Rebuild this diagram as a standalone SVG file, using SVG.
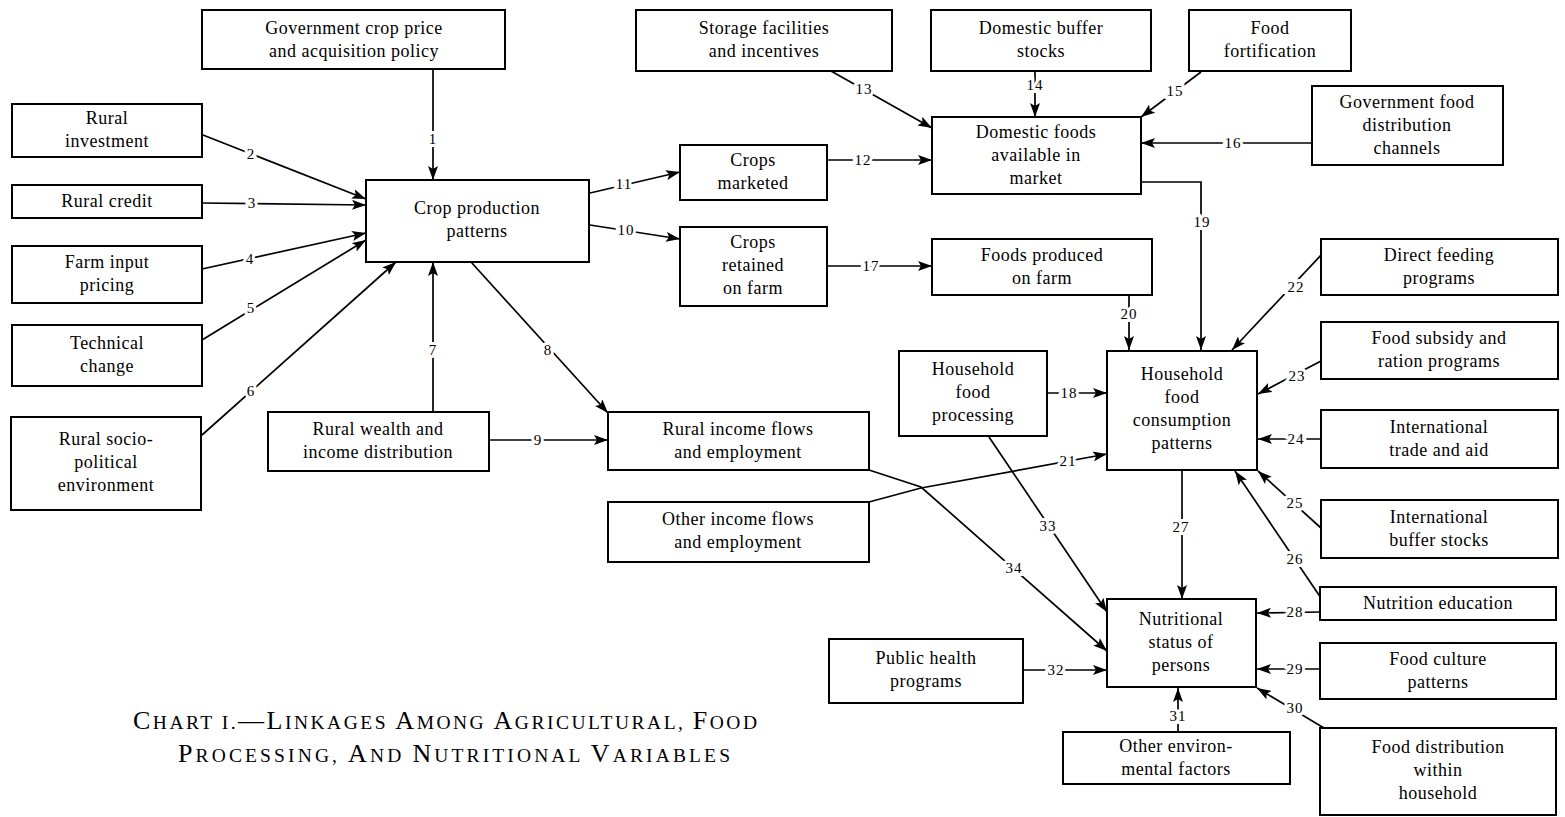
<svg xmlns="http://www.w3.org/2000/svg" width="1565" height="817" viewBox="0 0 1565 817">
<style>
.box{fill:#fff;stroke:#000;stroke-width:2}
.t{font-family:"Liberation Serif","DejaVu Serif",serif;font-size:18px;letter-spacing:0.5px;text-anchor:middle;fill:#000}
.c{fill:none;stroke:#000;stroke-width:1.7}
.l{font-family:"Liberation Serif","DejaVu Serif",serif;font-size:15px;text-anchor:middle;dominant-baseline:central;fill:#000;stroke:#fff;stroke-width:6px;paint-order:stroke;letter-spacing:1px}
.title{font-family:"Liberation Serif","DejaVu Serif",serif;font-size:19.5px;fill:#000}
.cap{font-size:26px}
</style>
<defs>
<marker id="ah" viewBox="0 0 14 10" markerWidth="14" markerHeight="10" refX="14" refY="5" orient="auto" markerUnits="userSpaceOnUse">
<path d="M0,0 L14,5 L0,10 L3,5 z" fill="#000"/>
</marker>
</defs>
<rect width="1565" height="817" fill="#fff"/>

<g id="connectors">
<path class="c" marker-end="url(#ah)" d="M433,70 L433,180"/>
<path class="c" marker-end="url(#ah)" d="M203,135 L366,199"/>
<path class="c" marker-end="url(#ah)" d="M202,203 L366,205"/>
<path class="c" marker-end="url(#ah)" d="M202,269 L366,233"/>
<path class="c" marker-end="url(#ah)" d="M202,340 L366,240"/>
<path class="c" marker-end="url(#ah)" d="M202,435 L396,262"/>
<path class="c" marker-end="url(#ah)" d="M433,412 L433,262"/>
<path class="c" marker-end="url(#ah)" d="M471,262 L608,413"/>
<path class="c" marker-end="url(#ah)" d="M489,440 L608,440"/>
<path class="c" marker-end="url(#ah)" d="M590,225 L680,239"/>
<path class="c" marker-end="url(#ah)" d="M590,193 L680,172"/>
<path class="c" marker-end="url(#ah)" d="M827,160 L932,160"/>
<path class="c" marker-end="url(#ah)" d="M831,71 L932,128"/>
<path class="c" marker-end="url(#ah)" d="M1035,71 L1035,117"/>
<path class="c" marker-end="url(#ah)" d="M1201,72 L1141,117"/>
<path class="c" marker-end="url(#ah)" d="M1312,143 L1141,143"/>
<path class="c" marker-end="url(#ah)" d="M827,266 L932,266"/>
<path class="c" marker-end="url(#ah)" d="M1047,393 L1107,393"/>
<path class="c" marker-end="url(#ah)" d="M1141,182 L1201,182 L1201,350"/>
<path class="c" marker-end="url(#ah)" d="M1129,295 L1129,350"/>
<path class="c" marker-end="url(#ah)" d="M869,502 L921,488 L1107,454"/>
<path class="c" marker-end="url(#ah)" d="M1323,253 L1232,350"/>
<path class="c" marker-end="url(#ah)" d="M1321,361 L1258,394"/>
<path class="c" marker-end="url(#ah)" d="M1321,439 L1258,439"/>
<path class="c" marker-end="url(#ah)" d="M1321,528 L1258,471"/>
<path class="c" marker-end="url(#ah)" d="M1321,598 L1235,471"/>
<path class="c" marker-end="url(#ah)" d="M1182,470 L1182,599"/>
<path class="c" marker-end="url(#ah)" d="M1320,612 L1257,613"/>
<path class="c" marker-end="url(#ah)" d="M1320,669 L1257,669"/>
<path class="c" marker-end="url(#ah)" d="M1324,728 L1257,688"/>
<path class="c" marker-end="url(#ah)" d="M1178,732 L1178,688"/>
<path class="c" marker-end="url(#ah)" d="M1023,670 L1107,670"/>
<path class="c" marker-end="url(#ah)" d="M989,437 L1107,612"/>
<path class="c" marker-end="url(#ah)" d="M869,470 L921,487 L1107,651"/>
<text class="l" x="433" y="139">1</text>
<text class="l" x="251" y="154">2</text>
<text class="l" x="252" y="203">3</text>
<text class="l" x="250" y="259">4</text>
<text class="l" x="251" y="308">5</text>
<text class="l" x="251" y="391">6</text>
<text class="l" x="433" y="350">7</text>
<text class="l" x="548" y="350">8</text>
<text class="l" x="538" y="440">9</text>
<text class="l" x="626" y="230">10</text>
<text class="l" x="624" y="184">11</text>
<text class="l" x="863" y="160">12</text>
<text class="l" x="864" y="89">13</text>
<text class="l" x="1035" y="85">14</text>
<text class="l" x="1175" y="91">15</text>
<text class="l" x="1233" y="143">16</text>
<text class="l" x="871" y="266">17</text>
<text class="l" x="1069" y="393">18</text>
<text class="l" x="1202" y="222">19</text>
<text class="l" x="1129" y="314">20</text>
<text class="l" x="1068" y="461">21</text>
<text class="l" x="1296" y="287">22</text>
<text class="l" x="1297" y="376">23</text>
<text class="l" x="1296" y="439">24</text>
<text class="l" x="1295" y="503">25</text>
<text class="l" x="1295" y="559">26</text>
<text class="l" x="1181" y="527">27</text>
<text class="l" x="1295" y="612">28</text>
<text class="l" x="1295" y="669">29</text>
<text class="l" x="1295" y="708">30</text>
<text class="l" x="1178" y="716">31</text>
<text class="l" x="1056" y="670">32</text>
<text class="l" x="1048" y="526">33</text>
<text class="l" x="1014" y="568">34</text>
</g>

<g id="gov"><rect class="box" x="202" y="10" width="303" height="59"/><text class="t" x="354" y="34">Government crop price</text><text class="t" x="354" y="57">and acquisition policy</text></g>
<g id="ruralInvestment"><rect class="box" x="12" y="104" width="190" height="53"/><text class="t" x="107" y="124">Rural</text><text class="t" x="107" y="147">investment</text></g>
<g id="ruralCredit"><rect class="box" x="12" y="185" width="190" height="33"/><text class="t" x="107" y="207">Rural credit</text></g>
<g id="farmInput"><rect class="box" x="12" y="246" width="190" height="57"/><text class="t" x="107" y="268">Farm input</text><text class="t" x="107" y="291">pricing</text></g>
<g id="technical"><rect class="box" x="12" y="325" width="190" height="61"/><text class="t" x="107" y="349">Technical</text><text class="t" x="107" y="372">change</text></g>
<g id="socio"><rect class="box" x="11" y="417" width="190" height="93"/><text class="t" x="106" y="445">Rural socio-</text><text class="t" x="106" y="468">political</text><text class="t" x="106" y="491">environment</text></g>
<g id="wealth"><rect class="box" x="268" y="412" width="221" height="59"/><text class="t" x="378" y="435">Rural wealth and</text><text class="t" x="378" y="458">income distribution</text></g>
<g id="crop"><rect class="box" x="366" y="180" width="223" height="82"/><text class="t" x="477" y="214">Crop production</text><text class="t" x="477" y="237">patterns</text></g>
<g id="cropsMarketed"><rect class="box" x="680" y="145" width="147" height="55"/><text class="t" x="753" y="166">Crops</text><text class="t" x="753" y="189">marketed</text></g>
<g id="cropsRetained"><rect class="box" x="680" y="227" width="147" height="79"/><text class="t" x="753" y="248">Crops</text><text class="t" x="753" y="271">retained</text><text class="t" x="753" y="294">on farm</text></g>
<g id="storage"><rect class="box" x="636" y="10" width="256" height="61"/><text class="t" x="764" y="34">Storage facilities</text><text class="t" x="764" y="57">and incentives</text></g>
<g id="buffer"><rect class="box" x="931" y="10" width="220" height="61"/><text class="t" x="1041" y="34">Domestic buffer</text><text class="t" x="1041" y="57">stocks</text></g>
<g id="fortification"><rect class="box" x="1189" y="10" width="162" height="61"/><text class="t" x="1270" y="34">Food</text><text class="t" x="1270" y="57">fortification</text></g>
<g id="govFood"><rect class="box" x="1312" y="86" width="191" height="79"/><text class="t" x="1407" y="108">Government food</text><text class="t" x="1407" y="131">distribution</text><text class="t" x="1407" y="154">channels</text></g>
<g id="market"><rect class="box" x="932" y="117" width="209" height="77"/><text class="t" x="1036" y="138">Domestic foods</text><text class="t" x="1036" y="161">available in</text><text class="t" x="1036" y="184">market</text></g>
<g id="onFarm"><rect class="box" x="932" y="239" width="220" height="56"/><text class="t" x="1042" y="261">Foods produced</text><text class="t" x="1042" y="284">on farm</text></g>
<g id="ruralIncome"><rect class="box" x="608" y="412" width="261" height="58"/><text class="t" x="738" y="435">Rural income flows</text><text class="t" x="738" y="458">and employment</text></g>
<g id="otherIncome"><rect class="box" x="608" y="502" width="261" height="60"/><text class="t" x="738" y="525">Other income flows</text><text class="t" x="738" y="548">and employment</text></g>
<g id="hhProcessing"><rect class="box" x="899" y="351" width="148" height="85"/><text class="t" x="973" y="375">Household</text><text class="t" x="973" y="398">food</text><text class="t" x="973" y="421">processing</text></g>
<g id="hhConsumption"><rect class="box" x="1107" y="351" width="150" height="119"/><text class="t" x="1182" y="380">Household</text><text class="t" x="1182" y="403">food</text><text class="t" x="1182" y="426">consumption</text><text class="t" x="1182" y="449">patterns</text></g>
<g id="feeding"><rect class="box" x="1321" y="239" width="237" height="56"/><text class="t" x="1439" y="261">Direct feeding</text><text class="t" x="1439" y="284">programs</text></g>
<g id="subsidy"><rect class="box" x="1321" y="322" width="237" height="57"/><text class="t" x="1439" y="344">Food subsidy and</text><text class="t" x="1439" y="367">ration programs</text></g>
<g id="trade"><rect class="box" x="1321" y="410" width="237" height="58"/><text class="t" x="1439" y="433">International</text><text class="t" x="1439" y="456">trade and aid</text></g>
<g id="intlBuffer"><rect class="box" x="1321" y="500" width="237" height="58"/><text class="t" x="1439" y="523">International</text><text class="t" x="1439" y="546">buffer stocks</text></g>
<g id="education"><rect class="box" x="1320" y="587" width="236" height="33"/><text class="t" x="1438" y="609">Nutrition education</text></g>
<g id="nutritional"><rect class="box" x="1107" y="599" width="149" height="88"/><text class="t" x="1181" y="625">Nutritional</text><text class="t" x="1181" y="648">status of</text><text class="t" x="1181" y="671">persons</text></g>
<g id="culture"><rect class="box" x="1320" y="643" width="236" height="56"/><text class="t" x="1438" y="665">Food culture</text><text class="t" x="1438" y="688">patterns</text></g>
<g id="distribution"><rect class="box" x="1320" y="728" width="236" height="87"/><text class="t" x="1438" y="753">Food distribution</text><text class="t" x="1438" y="776">within</text><text class="t" x="1438" y="799">household</text></g>
<g id="publicHealth"><rect class="box" x="829" y="639" width="194" height="64"/><text class="t" x="926" y="664">Public health</text><text class="t" x="926" y="687">programs</text></g>
<g id="otherEnv"><rect class="box" x="1063" y="732" width="227" height="52"/><text class="t" x="1176" y="752">Other environ-</text><text class="t" x="1176" y="775">mental factors</text></g>

<g id="title">
<text class="title" x="133" y="729" textLength="624" lengthAdjust="spacing"><tspan class="cap">C</tspan>HART I.<tspan class="cap">—L</tspan>INKAGES <tspan class="cap">A</tspan>MONG <tspan class="cap">A</tspan>GRICULTURAL, <tspan class="cap">F</tspan>OOD</text>
<text class="title" x="178" y="762" textLength="552" lengthAdjust="spacing"><tspan class="cap">P</tspan>ROCESSING, <tspan class="cap">A</tspan>ND <tspan class="cap">N</tspan>UTRITIONAL <tspan class="cap">V</tspan>ARIABLES</text>
</g>
</svg>
